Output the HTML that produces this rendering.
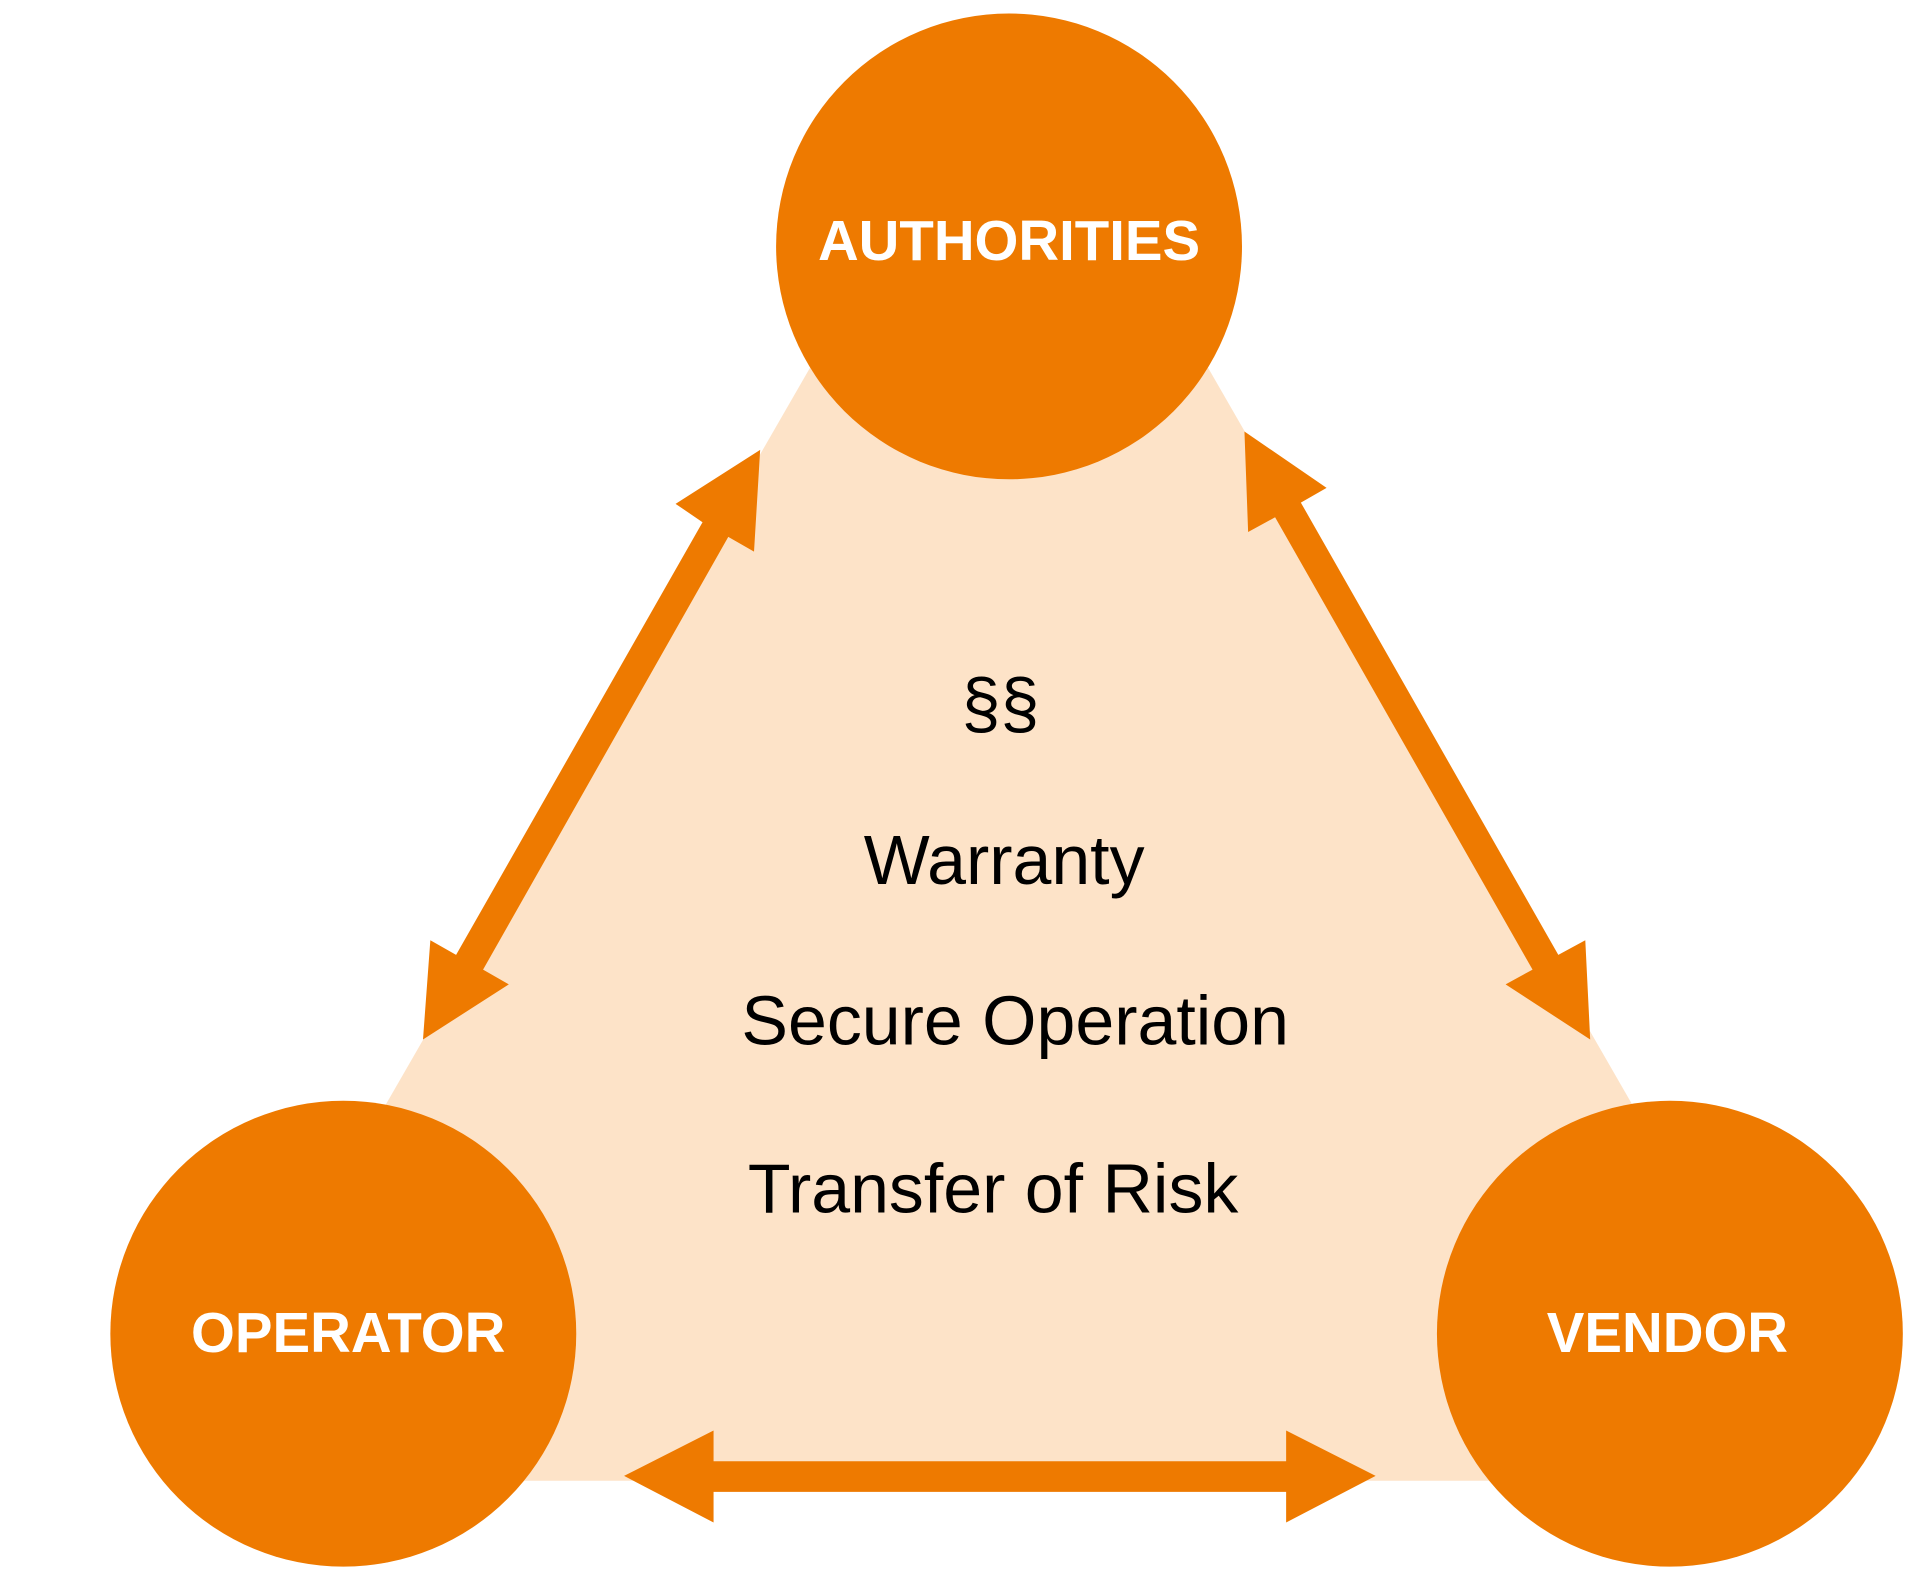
<!DOCTYPE html>
<html><head><meta charset="utf-8"><style>html,body{margin:0;padding:0;background:#fff;width:1920px;height:1585px;overflow:hidden}</style></head>
<body>
<svg width="1920" height="1585" viewBox="0 0 1566 1293" preserveAspectRatio="none" xmlns="http://www.w3.org/2000/svg">
<polygon points="823,18 138,1208 1508,1208" fill="#fde3c8"/>
<circle cx="823" cy="201" r="190" fill="#ee7a00"/>
<circle cx="280" cy="1088" r="190" fill="#ee7a00"/>
<circle cx="1362" cy="1088" r="190" fill="#ee7a00"/>
<polygon fill="#ee7a00" points="345,848 351,767 372,779 573,426 551,411 620,367 615,450 594,438 394,791 415,803"/>
<polygon fill="#ee7a00" points="1015,352 1082,398 1061,410 1271,779 1293,767 1297,848 1228,803 1250,791 1040,422 1018,434"/>
<polygon fill="#ee7a00" points="509,1204 582,1167 582,1192 1049,1192 1049,1167 1122,1204 1049,1242 1049,1217 582,1217 582,1242"/>
<g font-family="Liberation Sans, sans-serif" font-weight="bold" fill="#fff" font-size="46" text-anchor="middle">
<text x="823" y="212">AUTHORITIES</text>
<text x="284" y="1103">OPERATOR</text>
<text x="1360" y="1103">VENDOR</text>
</g>
<g font-family="Liberation Sans, sans-serif" fill="#000" font-size="57" text-anchor="middle">
<text x="816" y="593">§§</text>
<text x="819" y="721">Warranty</text>
<text x="828" y="852">Secure Operation</text>
<text x="810" y="989">Transfer of Risk</text>
</g>
</svg>
</body></html>
